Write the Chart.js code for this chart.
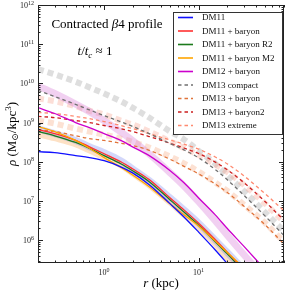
<!DOCTYPE html>
<html>
<head>
<meta charset="utf-8">
<script src="https://cdn.jsdelivr.net/npm/chart.js@4.4.1/dist/chart.umd.min.js"></script>
<style>
  html, body { margin: 0; padding: 0; background: #fff; }
  canvas { display: block; }
</style>
</head>
<body>
<canvas id="chart" width="290" height="292"></canvas>
<script>
// radius grid (kpc) shared by all profiles
const radius = [0.2, 0.3, 0.5, 0.7, 1, 1.5, 2, 3, 5, 7, 10, 15, 20, 30, 50, 80]

// density profiles, M_sun / kpc^3
const dm11 = [1.8e8, 1.7e8, 1.43e8, 1.27e8, 1.06e8, 7.4e7, 5.2e7, 2.6e7, 8.4e6, 3.9e6, 1.6e6, 5.6e5, 2.55e5, 7.9e4]
const dm11Baryon = [6.6e8, 5.2e8, 3.5e8, 2.4e8, 1.6e8, 1.0e8, 6.6e7, 3.5e7, 1.19e7, 5.9e6, 2.7e6, 1.02e6, 5.0e5, 1.78e5]
const dm11BaryonR2 = [5.9e8, 4.6e8, 3.1e8, 2.2e8, 1.43e8, 8.9e7, 5.9e7, 3.1e7, 1.06e7, 5.2e6, 2.4e6, 9.1e5, 4.5e5, 1.6e5]
const dm11BaryonM2 = [7.9e8, 5.9e8, 3.5e8, 2.2e8, 1.27e8, 7.2e7, 4.6e7, 2.3e7, 8.4e6, 4.4e6, 2.3e6, 9.4e5, 4.9e5, 2.0e5]
const dm12Baryon = [2.4e9, 1.7e9, 1.0e9, 7.4e8, 5.2e8, 3.5e8, 2.4e8, 1.43e8, 5.9e7, 2.9e7, 1.19e7, 4.4e6, 2.0e6, 7.0e5, 1.8e5]
const dm13Compact = [6.6e9, 4.6e9, 2.9e9, 2.1e9, 1.5e9, 1.05e9, 8.0e8, 5.2e8, 2.9e8, 2.0e8, 1.26e8, 6.3e7, 3.5e7, 1.4e7, 4.2e6, 1.3e6]
const dm13Baryon = [6.6e8, 5.9e8, 4.6e8, 3.9e8, 3.5e8, 2.95e8, 2.6e8, 1.95e8, 1.15e8, 7.6e7, 4.9e7, 2.7e7, 1.66e7, 7.4e6, 2.5e6, 7.9e5]
const dm13Baryon2 = [1.43e9, 1.34e9, 1.12e9, 1.0e9, 8.4e8, 7.0e8, 5.9e8, 4.4e8, 2.95e8, 2.24e8, 1.62e8, 9.8e7, 6.3e7, 2.95e7, 9.8e6, 3.2e6]
const dm13Extreme = [1.8e9, 1.7e9, 1.43e9, 1.26e9, 1.06e9, 8.4e8, 7.0e8, 5.2e8, 3.6e8, 2.8e8, 2.1e8, 1.32e8, 8.9e7, 4.4e7, 1.55e7, 5.6e6]

// faded thick reference curves behind the lines
const dm12Band = [8.5e9, 5.5e9, 2.95e9, 1.9e9, 1.12e9, 5.8e8, 3.5e8, 1.58e8, 5.2e7, 2.4e7, 9.5e6, 3.1e6, 1.35e6, 4.3e5, 1.07e5]
const dm11Band = [7.0e8, 5.2e8, 3.5e8, 2.4e8, 1.7e8, 1.06e8, 6.6e7, 3.3e7, 1.19e7, 5.9e6, 2.7e6, 1.0e6, 4.9e5, 1.74e5]
const dm11M2Band = [5.2e8, 4.1e8, 2.9e8, 2.0e8, 1.34e8, 8.4e7, 5.2e7, 2.6e7, 9.4e6, 4.6e6, 2.2e6, 8.4e5, 3.7e5, 1.43e5]
const dm13Band = [2.3e10, 1.7e10, 1.1e10, 7.9e9, 5.5e9, 3.5e9, 2.4e9, 1.34e9, 5.9e8, 3.7e8, 1.9e8, 8.9e7, 4.6e7, 1.8e7, 5.2e6, 1.7e6]
const dm13ExtremeBand = [4.1e9, 3.5e9, 2.6e9, 2.0e9, 1.6e9, 1.12e9, 8.9e8, 5.9e8, 3.3e8, 2.24e8, 1.48e8, 8.5e7, 5.5e7, 2.6e7, 8.7e6, 2.9e6]
const dm13BaryonBand = [1.12e9, 9.4e8, 7.0e8, 5.9e8, 4.9e8, 3.9e8, 3.2e8, 2.3e8, 1.35e8, 9.1e7, 5.6e7, 2.95e7, 1.82e7, 8.1e6, 2.8e6, 8.9e5]

const seriesNames = ['DM11', 'DM11 + baryon', 'DM11 + baryon R2', 'DM11 + baryon M2', 'DM12 + baryon',
  'DM13 compact', 'DM13 + baryon', 'DM13 + baryon2', 'DM13 extreme']

const xMin = 0.2, xMax = 80
const yMin = 2.6e5, yMax = 1e12
const xLabelExps = [0, 1]
const yLabelExps = [6, 7, 8, 9, 10, 11, 12]

const serif = '"Liberation Serif", "DejaVu Serif", serif'

const toPoints = vals => vals.map((v, i) => ({x: radius[i], y: v}))

function line(label, vals, color, dash) {
  return {
    label, data: toPoints(vals), borderColor: color, borderWidth: 1.3,
    borderDash: dash || [], pointRadius: 0, cubicInterpolationMode: 'monotone', fill: false
  }
}

function band(vals, color, width, dash) {
  return {
    band: true, data: toPoints(vals), borderColor: color, borderWidth: width,
    borderDash: dash || [], borderCapStyle: 'butt', pointRadius: 0,
    cubicInterpolationMode: 'monotone', fill: false
  }
}

const dash = [3.5, 3]
const dots = [6, 4]

// first dataset is drawn on top
const datasets = [
  line(seriesNames[0], dm11, '#1010ff'),
  line(seriesNames[3], dm11BaryonM2, '#ffa500'),
  line(seriesNames[1], dm11Baryon, '#ff3030'),
  line(seriesNames[2], dm11BaryonR2, '#1c7a1c'),
  line(seriesNames[4], dm12Baryon, '#cc00cc'),
  line(seriesNames[5], dm13Compact, '#707070', dash),
  line(seriesNames[6], dm13Baryon, '#e0733a', dash),
  line(seriesNames[7], dm13Baryon2, '#cc1f1f', dash),
  line(seriesNames[8], dm13Extreme, '#ff8a70', dash),
  band(dm11Band, 'rgba(130,140,240,0.35)', 7),
  band(dm11M2Band, 'rgba(250,170,90,0.35)', 7),
  band(dm12Band, 'rgba(215,120,215,0.35)', 7),
  band(dm13ExtremeBand, 'rgba(245,160,140,0.35)', 6, dots),
  band(dm13BaryonBand, 'rgba(245,170,130,0.35)', 6, dots),
  band(dm13Band, 'rgba(190,190,190,0.5)', 6, dots)
]

// legend order follows the names list
const legendOrder = seriesNames.map(n => datasets.find(d => d.label === n))

function drawRich(c, parts, x, y, align) {
  let w = 0
  parts.forEach(p => { c.font = p.font; w += c.measureText(p.t).width })
  let cx = align === 'center' ? x - w / 2 : align === 'right' ? x - w : x
  c.textAlign = 'left'
  c.textBaseline = 'alphabetic'
  parts.forEach(p => {
    c.font = p.font
    c.fillText(p.t, cx, y + (p.dy || 0))
    cx += c.measureText(p.t).width
  })
}

function powLabel(exp) {
  return [{t: '10', font: '8px ' + serif}, {t: String(exp), font: '6px ' + serif, dy: -3.5}]
}

function logTicks(min, max) {
  const out = []
  for (let e = Math.floor(Math.log10(min)); e <= Math.ceil(Math.log10(max)); e++) {
    for (let m = 1; m < 10; m++) {
      const v = m * Math.pow(10, e)
      if (v >= min * 0.999 && v <= max * 1.001) out.push({v, major: m === 1})
    }
  }
  return out
}

const decorations = {
  id: 'decorations',
  afterDraw(chart) {
    const c = chart.ctx
    const a = chart.chartArea
    const xs = chart.scales.x
    const ys = chart.scales.y
    c.save()

    // frame
    c.strokeStyle = '#222'
    c.lineWidth = 1
    c.strokeRect(a.left + 0.5, a.top + 0.5, a.right - a.left - 1, a.bottom - a.top - 1)

    // inward ticks on all four sides
    c.beginPath()
    logTicks(xMin, xMax).forEach(t => {
      const px = Math.round(xs.getPixelForValue(t.v)) + 0.5
      const len = t.major ? 5 : 2.5
      c.moveTo(px, a.bottom); c.lineTo(px, a.bottom - len)
      c.moveTo(px, a.top); c.lineTo(px, a.top + len)
    })
    logTicks(yMin, yMax).forEach(t => {
      const py = Math.round(ys.getPixelForValue(t.v)) + 0.5
      const len = t.major ? 5 : 2.5
      c.moveTo(a.left, py); c.lineTo(a.left + len, py)
      c.moveTo(a.right, py); c.lineTo(a.right - len, py)
    })
    c.stroke()

    // tick labels
    c.fillStyle = '#222'
    xLabelExps.forEach(e => {
      drawRich(c, powLabel(e), xs.getPixelForValue(Math.pow(10, e)), a.bottom + 12, 'center')
    })
    yLabelExps.forEach(e => {
      drawRich(c, powLabel(e), a.left - 4, ys.getPixelForValue(Math.pow(10, e)) + 3, 'right')
    })

    // axis titles
    c.fillStyle = '#000'
    drawRich(c, [
      {t: 'r', font: 'italic 13px ' + serif},
      {t: ' (kpc)', font: '13px ' + serif}
    ], (a.left + a.right) / 2, 287, 'center')

    c.save()
    c.translate(16, (a.top + a.bottom) / 2)
    c.rotate(-Math.PI / 2)
    drawRich(c, [
      {t: 'ρ', font: 'italic 13px ' + serif},
      {t: ' (M', font: '13px ' + serif},
      {t: '⊙', font: '9px ' + serif, dy: 2},
      {t: '/kpc', font: '13px ' + serif},
      {t: '3', font: '9px ' + serif, dy: -5},
      {t: ')', font: '13px ' + serif}
    ], 0, 0, 'center')
    c.restore()

    // annotation
    drawRich(c, [
      {t: 'Contracted ', font: '13px ' + serif},
      {t: 'β', font: 'italic 13px ' + serif},
      {t: '4 profile', font: '13px ' + serif}
    ], 107, 28, 'center')
    drawRich(c, [
      {t: 't', font: 'italic 13px ' + serif},
      {t: '/', font: '13px ' + serif},
      {t: 't', font: 'italic 13px ' + serif},
      {t: 'c', font: 'italic 9px ' + serif, dy: 3},
      {t: ' ≈ 1', font: '13px ' + serif}
    ], 95, 55, 'center')

    // legend box
    const bx = 173, by = 12, bw = 109, bh = 122
    c.fillStyle = '#fff'
    c.fillRect(bx, by, bw, bh)
    c.strokeStyle = '#333'
    c.lineWidth = 1
    c.strokeRect(bx + 0.5, by + 0.5, bw, bh)
    legendOrder.forEach((ds, i) => {
      const yy = by + 5.5 + i * 13.5
      c.strokeStyle = ds.borderColor
      c.lineWidth = ds.borderDash.length ? 1.3 : 1.6
      c.setLineDash(ds.borderDash.length ? [3.5, 3] : [])
      c.beginPath()
      c.moveTo(178, yy)
      c.lineTo(193, yy)
      c.stroke()
      c.setLineDash([])
      c.fillStyle = '#111'
      c.font = '9px ' + serif
      c.textBaseline = 'middle'
      c.textAlign = 'left'
      c.fillText(ds.label, 202, yy + 0.5)
    })
    c.restore()
  }
}

new Chart(document.getElementById('chart'), {
  type: 'line',
  data: {datasets},
  options: {
    responsive: false,
    animation: false,
    devicePixelRatio: 1,
    layout: {padding: {left: 38, right: 6, top: 5, bottom: 29}},
    plugins: {legend: {display: false}, tooltip: {enabled: false}},
    scales: {
      x: {type: 'logarithmic', min: xMin, max: xMax, display: false},
      y: {type: 'logarithmic', min: yMin, max: yMax, display: false}
    }
  },
  plugins: [decorations]
})
</script>
</body>
</html>
